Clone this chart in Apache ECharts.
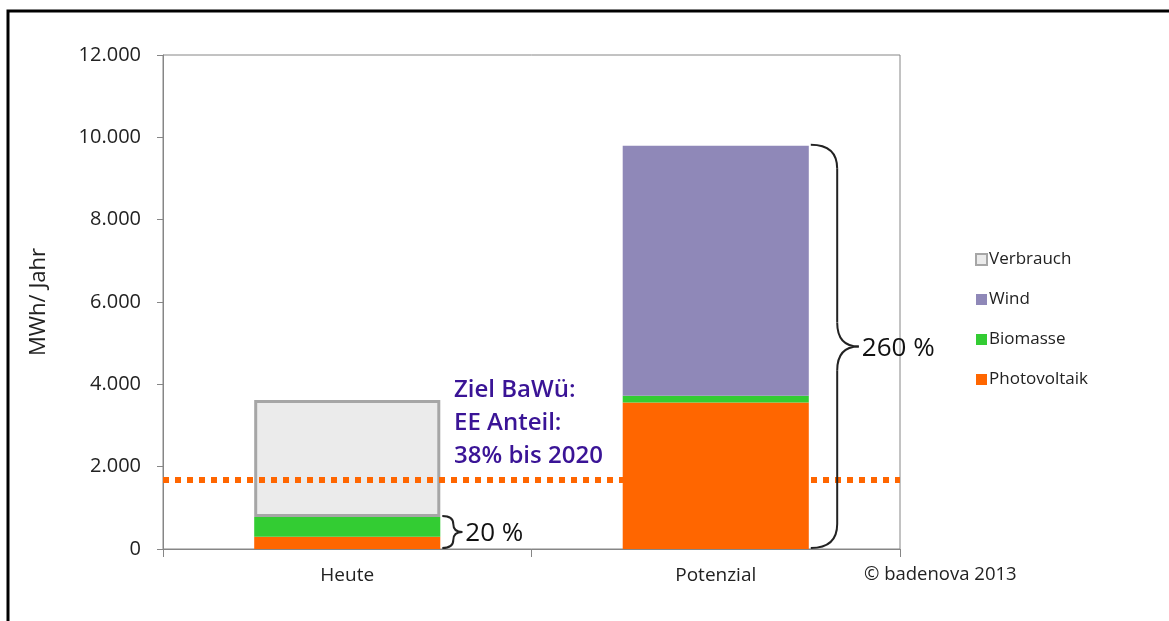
<!DOCTYPE html>
<html>
<head>
<meta charset="utf-8">
<script src="https://cdn.jsdelivr.net/npm/echarts@6/dist/echarts.min.js"></script>
<style>
html,body{margin:0;padding:0;background:#fff;}
#chart{width:1169px;height:621px;}
</style>
</head>
<body>
<div id="chart"></div>
<script>
const categories = ['Heute', 'Potenzial'];
const photovoltaik = [300, 3560];
const biomasse = [480, 165];
const wind = [null, 6070];
const verbrauch = [2840, null];
const zielLine = 1690;
const braceLabels = ['20 %', '260 %'];
const noteLines = ['Ziel BaWü:', 'EE Anteil:', '38% bis 2020'];

const FONT = '"Open Sans", "Noto Sans", sans-serif';
const chart = echarts.init(document.getElementById('chart'), null, {renderer: 'canvas'});

function fmt(v) {
  return String(v).replace(/\B(?=(\d{3})+(?!\d))/g, '.');
}

const option = {
  backgroundColor: '#fff',
  animation: false,
  grid: {left: 163, top: 55, right: 269, bottom: 72, show: true, borderColor: '#868686', borderWidth: 1, backgroundColor: 'transparent'},
  legend: {
    orient: 'vertical', left: 970, top: 246, itemGap: 23, itemWidth: 11, itemHeight: 11,
    data: ['Verbrauch', 'Wind', 'Biomasse', 'Photovoltaik'],
    textStyle: {fontFamily: FONT, fontSize: 17, color: '#222', padding: [0, 0, 0, -3]},
    icon: 'rect'
  },
  xAxis: {
    type: 'category', data: categories,
    axisLine: {lineStyle: {color: '#868686'}},
    axisTick: {show: true, length: 8, lineStyle: {color: '#868686'}, inside: false},
    axisLabel: {fontFamily: FONT, fontSize: 19, color: '#222', margin: 17}
  },
  yAxis: {
    type: 'value', min: 0, max: 12000, interval: 2000,
    name: 'MWh/ Jahr', nameLocation: 'middle', nameGap: 113, nameRotate: 90,
    nameTextStyle: {fontFamily: FONT, fontSize: 22, color: '#222'},
    axisLine: {show: true, lineStyle: {color: '#868686'}},
    axisTick: {show: true, length: 6, lineStyle: {color: '#868686'}},
    splitLine: {show: false},
    axisLabel: {fontFamily: FONT, fontSize: 20, color: '#222', margin: 22, formatter: fmt}
  },
  series: [
    {name: 'Photovoltaik', type: 'bar', stack: 's', data: photovoltaik, barWidth: '50.5%', itemStyle: {color: '#ff6600'},
     markLine: {silent: true, symbol: 'none', label: {show: false},
       lineStyle: {color: '#ff6600', width: 6, type: [6, 6], cap: 'butt'},
       data: [{yAxis: zielLine}], z: 10}},
    {name: 'Biomasse', type: 'bar', stack: 's', data: biomasse, itemStyle: {color: '#33cc33'}},
    {name: 'Wind', type: 'bar', stack: 's', data: wind, itemStyle: {color: '#8f88b8'}},
    {name: 'Verbrauch', type: 'bar', stack: 's', data: verbrauch, itemStyle: {color: '#ebebeb', borderColor: '#a6a6a6', borderWidth: 3}, z: 1}
  ]
};
chart.setOption(option);

const graphics = [];
const braceStyle = {fill: 'none', stroke: '#222', lineWidth: 2};
function addBrace(x0, y1, y2, w) {
  const x1 = x0 + w * 0.55;
  const x2 = x0 + w;
  const ym = (y1 + y2) / 2;
  const r = Math.min(w * 0.5, (y2 - y1) / 4);
  const curve = (a, b, c, d, e, f) => graphics.push({type: 'bezierCurve', shape: {x1: a, y1: b, cpx1: c, cpy1: d, x2: e, y2: f}, style: braceStyle, z: 20});
  const line = (a, b, c, d) => graphics.push({type: 'line', shape: {x1: a, y1: b, x2: c, y2: d}, style: braceStyle, z: 20});
  curve(x0, y1, x1, y1, x1, y1 + r);
  line(x1, y1 + r, x1, ym - r);
  curve(x1, ym - r, x1, ym, x2, ym);
  curve(x2, ym, x1, ym, x1, ym + r);
  line(x1, ym + r, x1, y2 - r);
  curve(x1, y2 - r, x1, y2, x0, y2);
}
const c0 = chart.convertToPixel({gridIndex: 0}, [0, 0]);
const c1 = chart.convertToPixel({gridIndex: 0}, [1, 0]);
const band = c1[0] - c0[0];
const totals = [0, 1].map(i => (photovoltaik[i] || 0) + (biomasse[i] || 0) + (wind[i] || 0));
const braceW = [20, 48];
[0, 1].map(i => {
  const base = chart.convertToPixel({gridIndex: 0}, [i, 0]);
  const top = chart.convertToPixel({gridIndex: 0}, [i, totals[i]]);
  const x0 = base[0] + band * 0.2525 + 2;
  const ym = (top[1] + base[1]) / 2;
  addBrace(x0, top[1] - 1, base[1] - 1, braceW[i]);
  graphics.push({type: 'text', x: x0 + braceW[i] + 3, y: ym + 1, style: {text: braceLabels[i], font: '400 26px ' + FONT, fill: '#111', verticalAlign: 'middle'}, z: 20});
});
const lineY = chart.convertToPixel({gridIndex: 0}, [0, zielLine])[1];
noteLines.map((t, k) => {
  graphics.push({type: 'text', x: 454, y: lineY - 89 + k * 33, style: {text: t, font: '600 24px ' + FONT, fill: '#3a1496', verticalAlign: 'middle'}, z: 20});
});
graphics.push({type: 'text', x: 864, y: 575, style: {text: '© badenova 2013', font: '400 18.5px ' + FONT, fill: '#222', verticalAlign: 'middle'}, z: 20});
graphics.push({type: 'rect', shape: {x: 8, y: 11, width: 1200, height: 700}, style: {fill: 'none', stroke: '#000', lineWidth: 3}, z: 30});
chart.setOption({graphic: graphics});
</script>
</body>
</html>
